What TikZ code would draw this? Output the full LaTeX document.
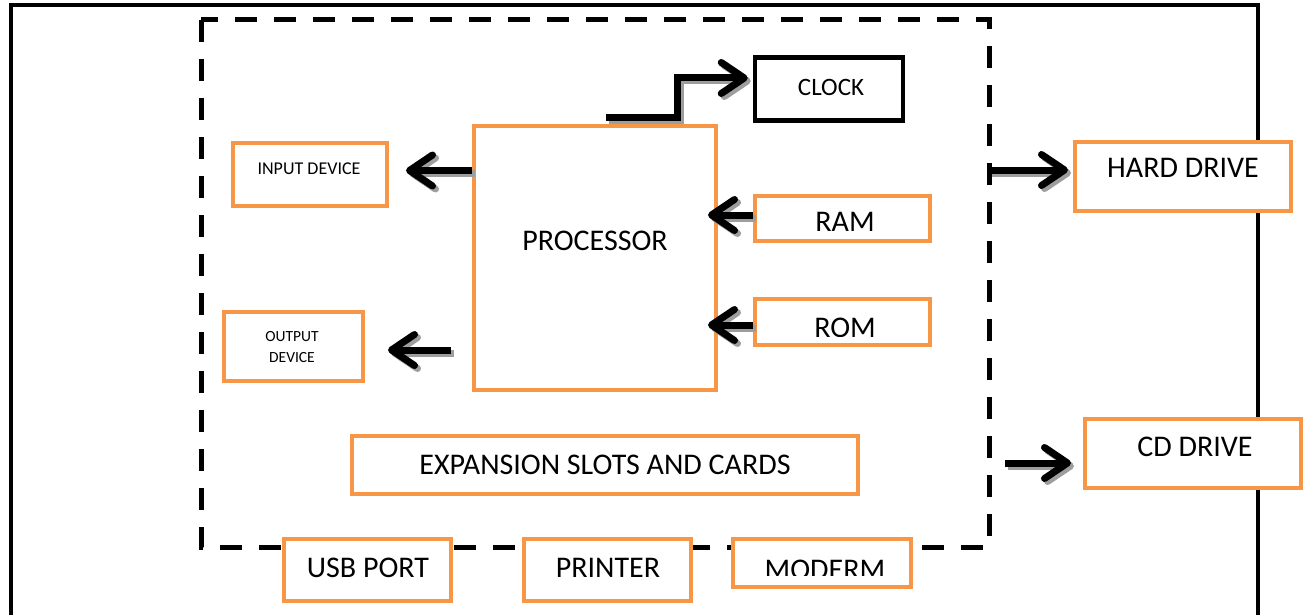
\documentclass[tikz,border=0pt]{standalone}
\usepackage{fontspec}
\setmainfont{Carlito}
\usetikzlibrary{arrows.meta,calc}
\definecolor{orng}{HTML}{F79646}
\newcommand\shdraw[2][]{%
  \draw[arr,draw=black!38,#1,transform canvas={xshift=3pt,yshift=-3pt}] #2;
  \draw[arr,#1] #2;}
\begin{document}
\begin{tikzpicture}[x=1pt,y=-1pt,
  obox/.style={draw=orng, line width=4pt, fill=white, inner sep=0pt},
  kbox/.style={draw=black, line width=4.5pt, fill=white, inner sep=0pt},
  lbl/.style={inner sep=0pt, font=\fontsize{30}{34}\selectfont},
  arr/.style={line width=7pt, -{Straight Barb[length=23pt,width=31pt,round]}},
]
\useasboundingbox (0,0) rectangle (1306,615);
\clip (0,0) rectangle (1306,615);
% frames
\draw[line width=4.5pt] (11,5) rectangle (1258,700);
\coordinate (dtl) at (201,20);
\coordinate (dbr) at (989,547);
\draw[line width=5pt, dash pattern=on 22pt off 17pt] (dtl) rectangle (dbr);
% boxes
\node[obox, minimum width=242pt, minimum height=264pt] (proc) at (595,258) {};
\node[kbox, minimum width=148pt, minimum height=63pt] (clock) at (829,89) {};
\node[obox, minimum width=154pt, minimum height=63pt] (inp) at (310,174.5) {};
\node[obox, minimum width=139pt, minimum height=69pt] (outp) at (293.5,346.5) {};
\node[obox, minimum width=175pt, minimum height=45pt] (ram) at (842.5,218.5) {};
\node[obox, minimum width=175pt, minimum height=46pt] (rom) at (842.5,322) {};
\node[obox, minimum width=216pt, minimum height=69pt] (hd) at (1183,176.5) {};
\node[obox, minimum width=216pt, minimum height=69pt] (cd) at (1193,453.5) {};
\node[obox, minimum width=506pt, minimum height=58pt] (exp) at (605,465) {};
\node[obox, minimum width=167pt, minimum height=62pt] (usb) at (367.5,570) {};
\node[obox, minimum width=167pt, minimum height=62pt] (prn) at (607.5,570) {};
\node[obox, minimum width=178pt, minimum height=48pt] (mod) at (822,563) {};
% labels
\node[lbl] (tproc) at (595,241) {PROCESSOR};
\node[lbl, font=\fontsize{25}{30}\selectfont] (tclock) at (831,87) {CLOCK};
\node[lbl, font=\fontsize{18}{22}\selectfont] (tinp) at (309,169) {INPUT DEVICE};
\node[lbl, font=\fontsize{15.5}{21}\selectfont, align=center] (toutp) at (292,347) {OUTPUT\\DEVICE};
\begin{scope}
\clip ($(ram.north west)+(0,2)$) rectangle ($(ram.east)+(0,12)$);
\node[lbl] (tram) at (845,222) {RAM};
\end{scope}
\begin{scope}
\clip ($(rom.north west)+(0,2)$) rectangle ($(rom.east)+(0,14)$);
\node[lbl] (trom) at (845,328) {ROM};
\end{scope}
\node[lbl] (thd) at (1183,168) {HARD DRIVE};
\node[lbl] (tcd) at (1195,447) {CD DRIVE};
\node[lbl] (texp) at (605,465) {EXPANSION SLOTS AND CARDS};
\node[lbl] (tusb) at (368,568) {USB PORT};
\node[lbl] (tprn) at (608,568) {PRINTER};
\begin{scope}
\clip ($(mod.north west)+(0,2)$) rectangle ($(mod.east)+(0,12)$);
\node[lbl] (tmod) at (825,569.5) {MODERM};
\end{scope}
% connectors
\coordinate (clk0) at (606,118);
\coordinate (cdsrc) at (1005,463);
\shdraw[shorten >=5pt]{(clk0) -| ($(clock.west)+(-75,-11)$) -- ($(clock.west)+(0,-11)$)}
\shdraw[shorten >=17pt]{($(proc.west |- inp.east)+(0,-4)$) -- ($(inp.east)+(0,-4)$)}
\shdraw[shorten <=21pt, shorten >=23pt]{($(proc.west |- outp.east)+(0,3.5)$) -- ($(outp.east)+(0,3.5)$)}
\shdraw[shorten >=-10pt]{($(ram.west)+(0,-3.5)$) -- ($(proc.east |- ram.west)+(0,-3.5)$)}
\shdraw[shorten >=-10pt]{($(rom.west)+(0,3)$) -- ($(proc.east |- rom.west)+(0,3)$)}
\shdraw[shorten >=5pt]{($(dbr |- hd.west)+(0,-6.5)$) -- ($(hd.west)+(0,-6.5)$)}
\shdraw[shorten >=12pt]{(cdsrc) -- (cd.west |- cdsrc)}
\end{tikzpicture}
\end{document}
